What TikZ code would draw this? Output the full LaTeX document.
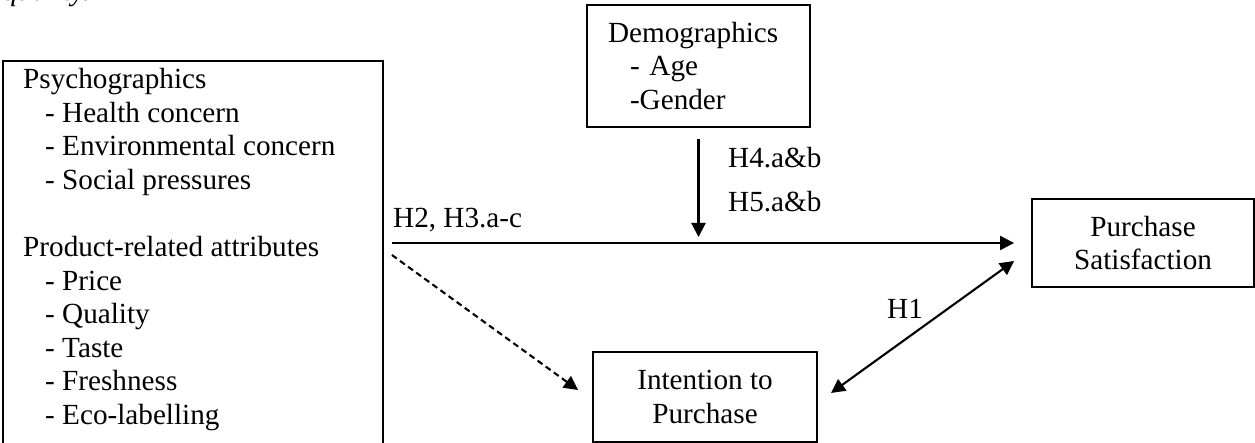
\documentclass[tikz,border=0pt]{standalone}
\usepackage{fontspec}
\setmainfont{Liberation Serif}
\usetikzlibrary{arrows.meta, positioning, calc}

\tikzset{
  every node/.style={font=\fontsize{29.2}{33.6}\selectfont, inner sep=0pt},
  box/.style={draw, line width=1.9pt},
  arr/.style={-{Triangle[length=14pt, width=14pt]}, line width=2.1pt},
  dblarr/.style={{Triangle[length=14pt, width=14pt]}-{Triangle[length=14pt, width=14pt]}, line width=2.1pt},
}

\begin{document}
\begin{tikzpicture}[x=1pt, y=-1pt]
        \clip (0,0) rectangle (1255,443);

        % ------------------ Cut-off caption ------------------
        \node[anchor=base west, font=\fontsize{29.2}{33.6}\selectfont\itshape] (cap) at (3,1) {quality.};

        % ------------------ Boxes ------------------

        % Antecedents
        \node[box, anchor=north west, minimum width=380pt, minimum height=420pt] (psy) at (2,60) {};
        \node[anchor=north west, align=left] (psylist) at (23,68) {Psychographics\\
          \hspace*{22pt}- Health concern\\
          \hspace*{22pt}- Environmental concern\\
          \hspace*{22pt}- Social pressures\\[33.6pt]
          Product-related attributes\\
          \hspace*{22pt}- Price\\
          \hspace*{22pt}- Quality\\
          \hspace*{22pt}- Taste\\
          \hspace*{22pt}- Freshness\\
          \hspace*{22pt}- Eco-labelling};

        % Moderators
        \node[box, minimum width=223pt, minimum height=122pt, text width=181pt, align=left] (demo) at (698.5,66) {Demographics\\
          \hspace*{22pt}- Age\\
          \hspace*{22pt}-Gender};

        % Outcomes
        \node[box, minimum width=224pt, minimum height=90pt, align=center] (intent) at (705,397) {Intention to\\Purchase};
        \node[box, minimum width=222pt, minimum height=88pt, align=center] (sat) at (1143,243) {Purchase\\Satisfaction};

        % ------------------ Arrows ------------------
        \coordinate (join) at (demo.south |- sat.west);

        \draw[arr, shorten <=8pt, shorten >=17pt] (psy.east |- sat.west) -- (sat.west);
        \draw[arr, shorten <=11pt, shorten >=6pt] (demo.south) -- (join);
        \draw[arr, dash pattern=on 6pt off 4pt] ($(psy.east |- sat.west)+(8,12)$) -- ($(intent.west)+(-14,-7)$);
        \draw[dblarr] ($(intent.east)+(13,-4)$) -- ($(sat.west)+(-17,18)$);

        % Hypotheses
        \node[anchor=base west] (h4) at (728,168) {H4.a\&b};
        \node[anchor=base west] (h5) at (728,212) {H5.a\&b};
        \node[anchor=base west] (h2) at (393,228) {H2, H3.a-c};
        \node[anchor=base west] (h1) at (887,319) {H1};

    \end{tikzpicture}
\end{document}
